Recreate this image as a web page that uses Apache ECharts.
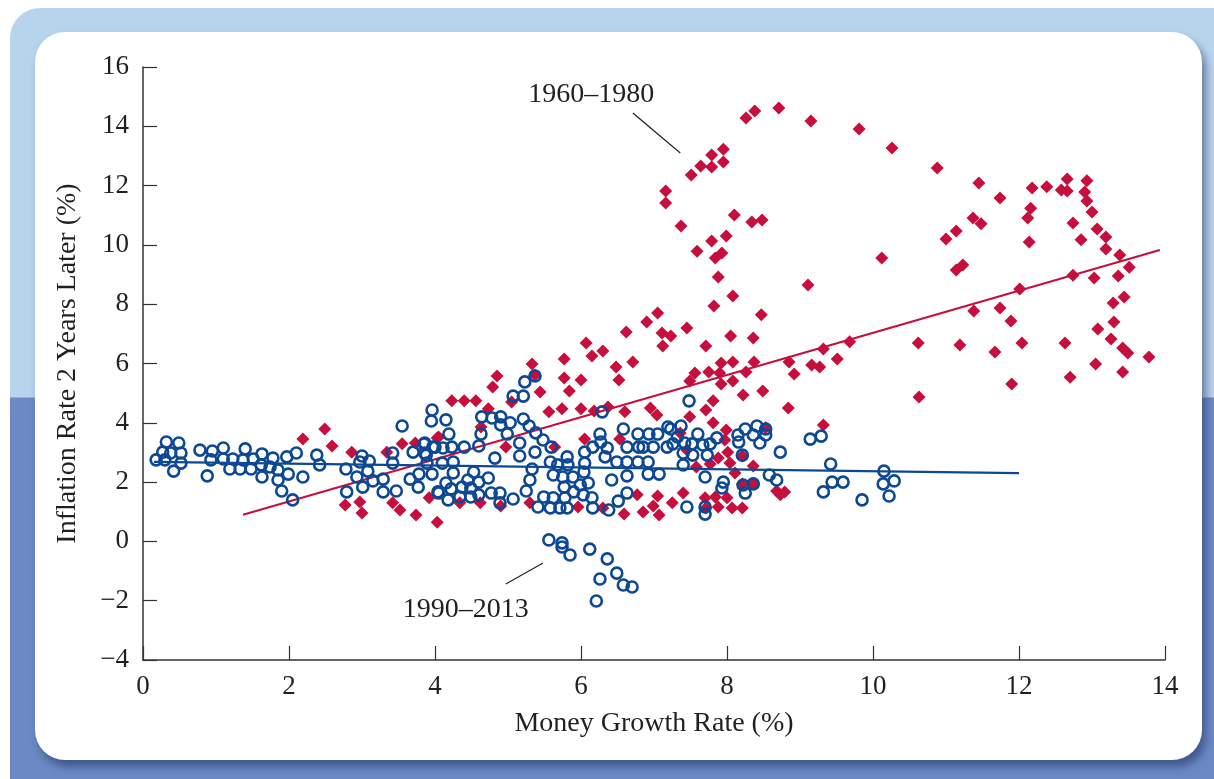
<!DOCTYPE html>
<html>
<head>
<meta charset="utf-8">
<script src="https://cdn.jsdelivr.net/npm/echarts@6/dist/echarts.min.js"></script>
<style>
html,body{margin:0;padding:0;width:1214px;height:779px;overflow:hidden;background:#ffffff;}
#frame{position:absolute;left:10px;top:8px;width:1204px;height:771px;border-top-left-radius:30px;
background:linear-gradient(to bottom,#b8d4ed 0px,#b8d4ed 389px,#6b8ac4 390px,#6b8ac4 100%);}
#card{position:absolute;left:35px;top:32px;width:1167px;height:728px;border-radius:30px;background:#ffffff;
box-shadow:4px 7px 9px rgba(30,50,100,0.55);}
#chart{position:absolute;left:0;top:0;width:1214px;height:779px;}
</style>
</head>
<body>
<div id="frame"></div>
<div id="card"></div>
<div id="chart"></div>
<script>
// ---- data ----
const xTicks = [0, 2, 4, 6, 8, 10, 12, 14];
const yTicks = [-4, -2, 0, 2, 4, 6, 8, 10, 12, 14, 16];
const xTitle = 'Money Growth Rate (%)';
const yTitle = 'Inflation Rate 2 Years Later (%)';

const label1960 = '1960–1980';
const label1990 = '1990–2013';
const label1960Pos = [6.14, 15.06];
const label1990Pos = [4.42, -2.31];
const leader1960 = [[6.71, 14.45], [7.36, 13.1]];
const leader1990 = [[4.97, -1.44], [5.48, -0.73]];

const fit1960 = [[1.37, 0.9], [13.93, 9.83]];
const fit1990 = [[0.15, 2.68], [12.0, 2.3]];

const red1960 = [
[8.26,14.28],[8.38,14.52],[8.71,14.62],[9.15,14.18],[9.81,13.91],[10.26,13.27],[10.88,12.59],
[7.95,13.23],[7.79,13.03],[7.64,12.66],[7.79,12.63],[7.95,12.80],[7.51,12.36],[7.16,11.82],[7.16,11.41],
[7.37,10.64],[8.10,11.01],[8.34,10.77],[8.48,10.84],[7.79,10.13],[7.99,10.30],[7.59,9.79],[7.84,9.56],
[7.93,9.73],[7.88,8.92],[8.08,8.28],[7.82,7.94],[9.11,8.65],[10.12,9.56],[8.47,7.64],[7.05,7.70],
[6.90,7.40],[7.45,7.20],[7.11,7.03],[7.23,6.93],[8.05,6.93],[8.36,6.86],
[11.45,12.09],[11.74,11.58],[12.18,11.92],[12.38,11.96],[12.66,12.22],[12.58,11.85],[12.66,11.82],
[12.93,12.16],[12.90,11.78],[12.93,11.48],[13.00,11.11],[12.16,11.24],[12.12,10.91],[12.74,10.74],
[12.14,10.10],[12.85,10.17],[13.07,10.54],[13.19,10.27],[13.19,9.86],[13.38,9.66],[13.51,9.25],
[13.36,8.95],[13.03,8.88],[12.74,8.98],[12.01,8.51],[13.44,8.24],[13.29,8.04],[13.30,7.40],[13.08,7.16],
[13.26,6.83],[13.42,6.52],[13.49,6.35],[13.78,6.22],[13.05,5.98],[13.42,5.71],[12.63,6.69],[12.70,5.54],
[12.04,6.69],[11.67,6.39],[11.90,5.31],[11.19,6.62],[10.62,6.69],[10.63,4.87],[11.38,7.77],[11.74,7.87],
[11.89,7.43],[11.00,10.20],[11.14,10.47],[11.37,10.91],[11.48,10.71],[11.14,9.15],[11.23,9.32],
[7.12,6.59],[7.71,6.59],[7.92,6.02],[8.08,6.05],[8.37,6.05],[7.56,5.68],[7.49,5.41],[7.75,5.71],
[7.90,5.68],[7.92,5.31],[8.08,5.41],[8.26,5.71],[8.85,6.05],[8.92,5.65],[9.16,5.95],[9.27,5.88],
[9.51,6.15],[9.68,6.73],[9.32,6.49],[8.22,4.94],[8.49,5.07],[8.84,4.50],[7.81,4.74],[7.71,4.43],
[6.95,4.50],[7.04,4.26],[7.49,4.20],[7.81,4.00],[7.99,3.76],[8.53,3.83],[9.32,3.93],[7.36,3.66],
[7.97,3.42],[8.01,3.01],[7.88,2.81],[7.77,2.61],[7.58,2.51],[8.04,2.64],[8.36,2.54],[8.11,2.31],
[8.21,2.88],[8.21,1.94],[8.36,1.94],[8.68,1.70],[8.79,1.67],[8.73,1.57],[7.40,1.63],[7.05,1.53],
[7.25,1.30],[6.99,1.19],[7.07,0.89],[6.85,0.99],[7.70,1.47],[8.00,1.47],[7.88,1.16],[8.07,1.13],
[8.21,1.13],[7.71,1.13],
[6.62,7.06],[6.07,6.69],[6.15,6.25],[6.30,6.42],[5.77,6.15],[5.33,5.98],[6.71,6.05],[6.48,5.88],
[6.52,5.44],[4.85,5.58],[4.79,5.21],[5.77,5.51],[6.00,5.44],[5.37,5.61],[5.44,5.04],[5.84,5.07],
[4.23,4.74],[4.40,4.74],[4.56,4.74],[4.73,4.47],[5.05,4.70],[5.56,4.37],[5.74,4.47],[6.00,4.47],
[6.18,4.40],[6.37,4.53],[6.60,4.37],[4.63,3.86],[4.05,3.52],[4.97,3.18],[5.64,3.18],[6.05,3.45],
[6.53,3.45],[7.45,3.08],[3.92,1.47],[4.03,0.65],[4.34,1.30],[4.62,1.30],[4.90,1.19],[5.30,1.30],
[5.96,1.16],[6.30,1.13],[6.59,0.92],[6.77,1.57],[7.84,1.50],
[2.19,3.45],[2.49,3.79],[2.59,3.22],[2.86,3.01],[3.34,3.01],[3.55,3.29],[3.73,3.32],[4.03,3.49],
[2.77,1.23],[2.97,1.33],[3.00,0.96],[3.42,1.30],[3.52,1.06],[3.74,0.89]
];

const blue1990 = [
[0.18,2.75],[0.30,2.75],[0.27,3.01],[0.32,3.35],[0.38,2.98],[0.49,3.32],[0.52,2.98],[0.52,2.64],
[0.42,2.37],[0.78,3.08],[0.88,2.21],[0.95,3.05],[0.93,2.75],[1.10,3.15],[1.10,2.78],[1.19,2.44],
[1.23,2.78],[1.33,2.44],[1.37,2.75],[1.40,3.12],[1.48,2.44],[1.51,2.78],[1.62,2.58],[1.63,2.95],
[1.63,2.17],[1.74,2.51],[1.78,2.81],[1.85,2.41],[1.85,2.07],[1.90,1.70],[1.97,2.85],[1.99,2.27],
[2.10,2.98],[2.05,1.40],[2.19,2.17],[2.38,2.91],[2.42,2.58],[2.78,2.44],[2.79,1.67],[2.93,2.17],
[3.00,2.88],[2.97,2.68],[3.10,2.71],[3.08,2.37],[3.01,1.83],[3.15,2.04],[3.29,2.10],[3.29,1.67],
[3.42,2.98],[3.42,2.64],[3.47,1.70],[3.55,3.89],[3.66,2.10],[3.70,3.01],[3.77,1.83],[3.78,2.27],
[3.85,3.29],[3.88,2.91],[3.96,4.43],[3.95,4.06],[3.96,2.27],[3.97,3.18],[4.04,1.67],
[5.37,5.58],[5.23,5.38],[5.07,4.90],[5.21,4.90],[4.15,4.10],[4.19,3.62],[3.86,3.32],[3.86,2.98],
[4.00,3.18],[4.11,3.15],[4.23,3.18],[4.40,3.18],[3.89,2.64],[4.10,2.64],[4.25,2.68],[4.25,2.31],
[4.15,1.97],[4.05,1.63],[4.18,1.40],[4.22,1.77],[4.37,1.83],[4.34,1.50],[4.45,2.07],[4.49,1.80],
[4.49,1.50],[4.53,2.34],[4.60,2.00],[4.60,1.57],[4.73,2.14],[4.77,1.63],[4.89,1.63],[4.89,1.30],
[5.07,1.43],[4.60,3.22],[4.63,3.62],[4.64,4.20],[4.78,4.16],[4.90,4.20],[4.90,3.93],[5.03,4.00],
[4.99,3.62],[5.16,3.32],[5.16,2.88],[5.21,4.13],[5.29,3.89],[5.38,3.66],[5.37,3.01],[5.48,3.42],
[5.59,3.18],[4.82,2.81],[5.33,2.44],[5.30,2.07],[5.25,1.70],[5.41,1.16],[5.49,1.50],[5.58,1.13],
[5.62,1.47],[5.62,2.24],[5.58,2.68],[5.68,2.58],[5.71,1.13],[5.78,1.47],[5.75,2.17],[5.77,1.83],
[5.81,2.85],[5.81,1.13],[5.82,2.58],[5.89,2.17],[5.90,1.67],[5.99,1.90],[6.03,1.57],[6.10,1.97],
[6.05,3.01],[6.05,2.64],[6.04,2.34],[6.15,1.47],[6.16,1.13],[6.16,3.18],[6.26,3.62],[6.29,4.37],
[6.27,3.35],[6.33,2.85],[6.36,3.15],[6.42,2.07],[6.38,1.06],[6.49,2.68],[6.51,1.36],[6.58,3.79],
[6.63,3.18],[6.63,2.21],[6.63,2.68],[6.63,1.63],[6.78,2.68],[6.78,3.62],[6.79,3.18],[6.93,3.62],
[6.99,3.18],[6.92,2.68],[6.92,2.27],[7.05,3.62],[7.07,2.27],[7.18,3.18],[7.19,3.86],[7.23,3.79],
[7.37,3.89],[7.40,2.58],[7.32,3.52],[7.42,3.32],[7.48,4.74],[7.53,2.91],[7.60,3.62],[7.67,3.25],
[7.73,2.91],[7.77,3.29],[7.70,2.17],[7.45,1.16],[7.70,1.16],[7.70,0.92],
[7.86,3.49],[8.15,3.59],[8.25,3.79],[8.41,3.89],[8.53,3.79],[8.36,3.59],[8.53,3.59],[8.16,3.35],
[8.45,3.32],[6.85,3.18],[7.26,3.29],[7.52,3.29],[7.40,2.98],[8.21,2.91],[8.73,3.01],[8.58,2.24],
[8.68,2.07],[7.95,2.00],[7.93,1.80],[8.22,1.90],[8.25,1.63],[8.36,1.94],
[9.14,3.45],[9.29,3.55],[9.42,2.61],[9.44,2.00],[9.59,2.00],[9.32,1.67],[9.85,1.40],[10.15,2.37],
[10.14,1.94],[10.29,2.04],[10.22,1.53],
[5.56,0.05],[5.74,-0.05],[5.74,-0.19],[5.85,-0.46],[6.12,-0.26],[6.36,-0.59],[6.26,-1.27],[6.49,-1.07],
[6.58,-1.47],[6.70,-1.54],[6.21,-2.01]
];

// ---- styles ----
const RED = '#c60f3d';
const BLUE = '#0c4894';
const TXT = '#231f20';
const FONT = 'Liberation Serif';

const chart = echarts.init(document.getElementById('chart'), null, {renderer: 'canvas'});
chart.setOption({
  backgroundColor: 'transparent',
  animation: false,
  grid: {left: 143, right: 49, top: 67, bottom: 119, containLabel: false},
  xAxis: {
    type: 'value', min: xTicks[0], max: xTicks[xTicks.length - 1], interval: 2,
    name: xTitle, nameLocation: 'middle', nameGap: 50,
    nameTextStyle: {fontFamily: FONT, fontSize: 28, color: TXT},
    axisLine: {onZero: false, lineStyle: {color: '#333', width: 1.5}},
    axisTick: {inside: true, length: 14, lineStyle: {color: '#333', width: 1.2}},
    axisLabel: {margin: 13, fontFamily: FONT, fontSize: 27, color: TXT},
    splitLine: {show: false}
  },
  yAxis: {
    type: 'value', min: yTicks[0], max: yTicks[yTicks.length - 1], interval: 2,
    name: yTitle, nameLocation: 'middle', nameGap: 61, nameRotate: 90,
    nameTextStyle: {fontFamily: FONT, fontSize: 28, color: TXT},
    axisLine: {onZero: false, lineStyle: {color: '#333', width: 1.5}},
    axisTick: {inside: true, length: 14, lineStyle: {color: '#333', width: 1.2}},
    axisLabel: {margin: 14, fontFamily: FONT, fontSize: 27, color: TXT,
      formatter: v => (v < 0 ? '\u2212' + Math.abs(v) : String(v))},
    splitLine: {show: false}
  },
  series: [
    {type: 'scatter', name: label1960, data: red1960, symbol: 'diamond', symbolSize: 13,
     itemStyle: {color: RED, opacity: 1}, z: 3},
    {type: 'line', data: fit1960, showSymbol: false, symbol: 'none',
     lineStyle: {color: RED, width: 2.2}, z: 4},
    {type: 'scatter', name: label1990, data: blue1990, symbol: 'circle', symbolSize: 11,
     itemStyle: {color: 'rgba(255,255,255,0)', borderColor: BLUE, borderWidth: 2.6, opacity: 1}, z: 5},
    {type: 'line', data: fit1990, showSymbol: false, symbol: 'none',
     lineStyle: {color: BLUE, width: 2.2}, z: 6},
    {type: 'line', data: leader1960, showSymbol: false, symbol: 'none',
     lineStyle: {color: '#222', width: 1.2}, z: 6},
    {type: 'line', data: leader1990, showSymbol: false, symbol: 'none',
     lineStyle: {color: '#222', width: 1.2}, z: 6},
    {type: 'scatter', symbolSize: 0, z: 7, itemStyle: {opacity: 1},
     data: [{value: label1960Pos, name: label1960}, {value: label1990Pos, name: label1990}],
     label: {show: true, position: 'inside', formatter: p => p.name,
       fontFamily: FONT, fontSize: 28, color: TXT, opacity: 1}}
  ]
});
</script>
</body>
</html>
